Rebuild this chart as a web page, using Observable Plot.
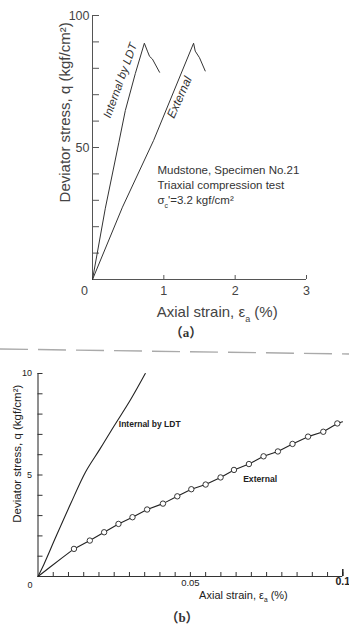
<!DOCTYPE html>
<html><head><meta charset="utf-8">
<script src="https://cdn.jsdelivr.net/npm/d3@7"></script>
<script src="https://cdn.jsdelivr.net/npm/@observablehq/plot@0.6"></script>
<style>
body{margin:0;background:#fff;}
#wrap{position:relative;width:349px;height:635px;overflow:hidden;background:#fff;}
.panel{position:absolute;left:0;}
.cap{position:absolute;width:80px;text-align:center;font-family:"Liberation Serif","Noto Sans CJK SC",serif;font-weight:bold;color:#333;font-size:13px;line-height:16px;}
</style></head><body><div id="wrap"></div>
<script>
// ---------- Panel (a) data ----------
const aIntStrain = [0, 0.18, 0.37, 0.46, 0.60, 0.727, 0.77, 0.80, 0.84, 0.94];
const aIntStress = [0, 27, 52, 64, 78, 89.5, 86.5, 84.5, 83.5, 78.5];
const aExtStrain = [0, 0.42, 0.857, 1.417, 1.44, 1.50, 1.58];
const aExtStress = [0, 27.4, 52.7, 89.5, 86.5, 84, 79];
const aYTicks = [10, 20, 30, 40, 50, 60, 70, 80, 90, 100];
const aYLabels = [50, 100];
const aXTicks = [1, 2, 3];
const aXLabels = [1, 2, 3];
const aYTitle = "Deviator stress, q (kgf/cm²)";
const aXTitle = "Axial strain, ε_{a} (%)";
const aNote = "Mudstone, Specimen No.21\nTriaxial compression test\nσ_{c}'=3.2 kgf/cm²";
const aCurveNames = ["Internal by LDT", "External"];

// ---------- Panel (b) data ----------
const bIntStrain = [0, 0.0020, 0.0058, 0.0107, 0.0156, 0.0202, 0.0249, 0.0304, 0.0352];
const bIntStress = [0, 0.62, 1.93, 3.58, 5.15, 6.25, 7.4, 8.72, 10.0];
const bExtDotStrain = [0.0118, 0.0170, 0.0217, 0.0264, 0.0310, 0.0358, 0.0410, 0.0457, 0.0503, 0.0550, 0.0599, 0.0643, 0.0692, 0.0740, 0.0787, 0.0835, 0.0886, 0.0936, 0.0982];
const bExtDotStress = [1.36, 1.77, 2.18, 2.59, 2.92, 3.30, 3.59, 3.95, 4.30, 4.53, 4.88, 5.25, 5.54, 5.92, 6.16, 6.53, 6.89, 7.13, 7.54];
const bExtStartStrain = [0, 0.004, 0.008];
const bExtStartStress = [0, 0.47, 0.93];
const bExtEndStrain = [0.0999];
const bExtEndStress = [7.62];
const bYTicks = [1, 2, 3, 4, 5, 6, 7, 8, 9, 10];
const bYLabels = [5, 10];
const bXTicks = [0.005, 0.01, 0.015, 0.02, 0.025, 0.03, 0.035, 0.04, 0.045, 0.05, 0.055, 0.06, 0.065, 0.07, 0.075, 0.08, 0.085, 0.09, 0.095, 0.1];
const bXLabels = [0.05];
const bXLabelsBold = [0.1];
const bYTitle = "Deviator stress, q (kgf/cm²)";
const bXTitle = "Axial strain, ε_{a} (%)";
const bCurveNames = ["Internal by LDT", "External"];

const FONT = "'Liberation Sans', Arial, sans-serif";
const zip = (xs, ys) => xs.map((x, i) => ({x, y: ys[i]}));

function subscripts(svg) {
  const NS = "http://www.w3.org/2000/svg";
  svg.querySelectorAll("text, tspan").forEach(el => {
    for (const node of [...el.childNodes]) {
      if (node.nodeType !== 3 || !node.nodeValue.includes("_{")) continue;
      const parts = node.nodeValue.split(/(_\{[^}]*\})/);
      const frag = document.createDocumentFragment();
      for (const p of parts) {
        if (!p) continue;
        const m = p.match(/^_\{(.*)\}$/);
        const t = document.createElementNS(NS, "tspan");
        if (m) { t.textContent = m[1]; t.setAttribute("baseline-shift", "sub"); t.setAttribute("font-size", "0.6em"); }
        else t.textContent = p;
        frag.appendChild(t);
      }
      el.replaceChild(frag, node);
    }
  });
}

const wrap = document.getElementById("wrap");

// ---------- Panel (a) ----------
const plotA = Plot.plot({
  width: 349, height: 320,
  marginLeft: 92, marginRight: 43, marginTop: 15, marginBottom: 41,
  x: {domain: [0, 3]},
  y: {domain: [0, 100]},
  style: {fontFamily: FONT, color: "#444", background: "white", overflow: "visible"},
  marks: [
    Plot.ruleX([0], {stroke: "#555", strokeWidth: 1}),
    Plot.ruleY([0], {stroke: "#555", strokeWidth: 1}),
    Plot.axisY(aYTicks, {tickSize: -7, tickFormat: () => "", label: null, color: "#555"}),
    Plot.axisY(aYLabels, {tickSize: 0, tickPadding: 3, fontSize: 12.5, label: null, tickFormat: d => String(d)}),
    Plot.axisX(aXTicks, {tickSize: -4, tickFormat: () => "", label: null, color: "#555"}),
    Plot.axisX(aXLabels, {tickSize: 0, tickPadding: 7, fontSize: 12.5, label: null, tickFormat: d => String(d)}),
    Plot.axisX([0], {tickSize: 0, tickPadding: 7, dx: -8, fontSize: 12.5, label: null, tickFormat: d => String(d)}),
    Plot.line(zip(aIntStrain, aIntStress), {x: "x", y: "y", stroke: "#333", strokeWidth: 1}),
    Plot.line(zip(aExtStrain, aExtStress), {x: "x", y: "y", stroke: "#333", strokeWidth: 1}),
    Plot.text([aCurveNames[0]], {x: 0.39, y: 75.4, rotate: -70, fontSize: 11.5, fontStyle: "italic", fill: "#333"}),
    Plot.text([aCurveNames[1]], {x: 1.22, y: 69, rotate: -66, fontSize: 12, fontStyle: "italic", fill: "#333"}),
    Plot.text([aNote], {x: 0.91, y: 44, textAnchor: "start", lineAnchor: "top", lineHeight: 1.3, fontSize: 11.5, fill: "#333"}),
    Plot.text([aYTitle], {x: -0.378, y: 63.3, rotate: -90, fontSize: 15, fill: "#444"}),
    Plot.text([aXTitle], {x: 1.748, y: -12.3, fontSize: 15, fill: "#444"})
  ]
});
subscripts(plotA);
plotA.classList.add("panel");
plotA.style.top = "0px";
wrap.appendChild(plotA);

const capA = document.createElement("div");
capA.className = "cap"; capA.textContent = "（a）";
capA.style.left = "146px"; capA.style.top = "325px";
wrap.appendChild(capA);

// dashed divider
const div = document.createElementNS("http://www.w3.org/2000/svg", "svg");
div.setAttribute("width", 349); div.setAttribute("height", 12);
div.setAttribute("style", "position:absolute;left:0;top:344px");
div.innerHTML = '<line x1="0" y1="5" x2="349" y2="10" stroke="#aaa" stroke-width="1.4" stroke-dasharray="28 10"/>';
wrap.appendChild(div);

// ---------- Panel (b) ----------
const extLine = zip(bExtStartStrain.concat(bExtDotStrain, bExtEndStrain), bExtStartStress.concat(bExtDotStress, bExtEndStress));
const plotB = Plot.plot({
  width: 349, height: 250,
  marginLeft: 37.5, marginRight: 6.7, marginTop: 18, marginBottom: 29,
  x: {domain: [0, 0.1]},
  y: {domain: [0, 10]},
  style: {fontFamily: FONT, color: "#222", background: "white", overflow: "visible"},
  marks: [
    Plot.ruleX([0], {stroke: "#333", strokeWidth: 1.1}),
    Plot.ruleY([0], {stroke: "#333", strokeWidth: 1.1}),
    Plot.axisY(bYTicks, {tickSize: -5, tickFormat: () => "", label: null, color: "#333"}),
    Plot.axisY(bYLabels, {tickSize: 0, tickPadding: 6, fontSize: 9, label: null, tickFormat: d => String(d)}),
    Plot.axisX(bXTicks, {tickSize: -4, tickFormat: () => "", label: null, color: "#333"}),
    Plot.axisX(bXLabelsBold, {tickSize: -7, tickFormat: () => "", label: null, color: "#222", strokeWidth: 1.5}),
    Plot.axisX(bXLabels, {tickSize: 0, tickPadding: 3, fontSize: 9.5, label: null, tickFormat: d => String(d)}),
    Plot.axisX(bXLabelsBold, {tickSize: 0, tickPadding: 1, fontSize: 10.5, fontWeight: "bold", label: null, tickFormat: d => String(d)}),
    Plot.axisX([0], {tickSize: 0, tickPadding: 5, dx: -8, fontSize: 9, label: null, tickFormat: d => String(d)}),
    Plot.line(zip(bIntStrain, bIntStress), {x: "x", y: "y", stroke: "#222", strokeWidth: 1.1, curve: "catmull-rom"}),
    Plot.line(extLine, {x: "x", y: "y", stroke: "#222", strokeWidth: 1.1}),
    Plot.dot(zip(bExtDotStrain, bExtDotStress), {x: "x", y: "y", r: 2.7, fill: "white", stroke: "#222", strokeWidth: 0.9}),
    Plot.text([bCurveNames[0]], {x: 0.0265, y: 7.48, textAnchor: "start", fontSize: 8.5, fontWeight: "bold", fill: "#222"}),
    Plot.text([bCurveNames[1]], {x: 0.0673, y: 4.8, textAnchor: "start", fontSize: 8.6, fontWeight: "bold", fill: "#222"}),
    Plot.text([bYTitle], {x: -0.00673, y: 6.05, rotate: -90, fontSize: 11.5, fill: "#222"}),
    Plot.text([bXTitle], {x: 0.0674, y: -0.91, fontSize: 11, fill: "#222"})
  ]
});
subscripts(plotB);
plotB.classList.add("panel");
plotB.style.top = "355px";
wrap.appendChild(plotB);

const capB = document.createElement("div");
capB.className = "cap"; capB.textContent = "（b）";
capB.style.left = "142px"; capB.style.top = "610px";
wrap.appendChild(capB);
</script>
</body></html>
